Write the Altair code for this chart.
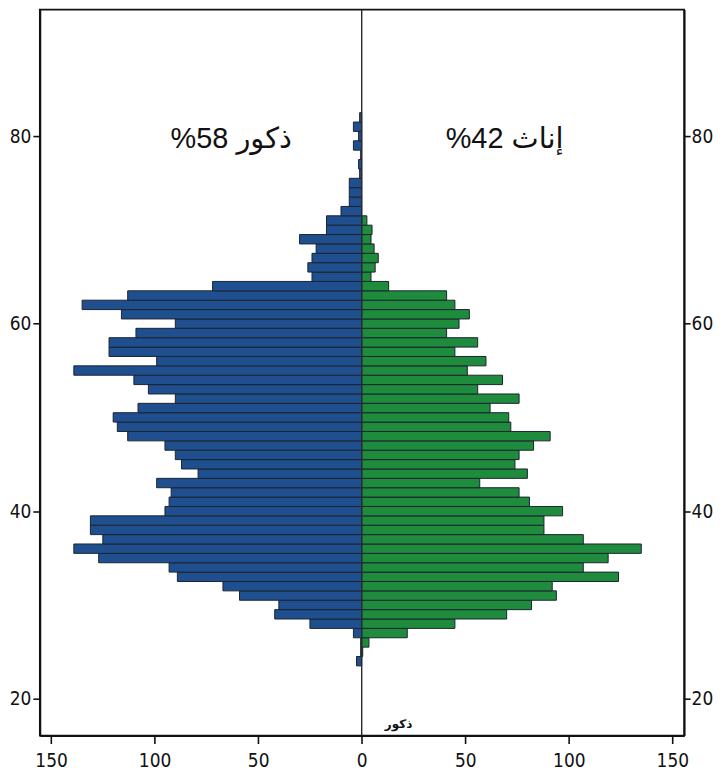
import altair as alt
import pandas as pd

# ---- data ----
ages = list(range(24, 83))
male = [2.5, 0.5, 0.5, 4, 25, 42, 40, 59, 67, 89,
        93, 127, 139, 125, 131, 131, 95, 93, 92, 99,
        79, 87, 90, 95, 113, 118, 120, 108, 90, 103,
        110, 139, 99, 122, 122, 109, 90, 116, 135, 113,
        72, 24, 26, 24, 22, 30, 17, 17, 10, 6,
        6, 6, 1, 1.5, 0.5, 4, 1.5, 4, 1]
female = [0, 0.5, 3.5, 22, 45, 70, 82, 94, 92, 124,
          107, 119, 135, 107, 88, 88, 97, 81, 76, 57,
          80, 74, 76, 83, 91, 72, 71, 62, 76, 56,
          68, 51, 60, 45, 56, 41, 47, 52, 45, 41,
          13, 4.5, 6.5, 8, 6, 4.5, 5, 2.5, 0, 0,
          0, 0, 0, 0, 0, 0, 0, 0, 0]
x_ticks = [-150, -100, -50, 0, 50, 100, 150]
y_ticks = [20, 40, 60, 80]
male_label = "%58 ذكور"
female_label = "%42 إناث"
bottom_label = "ذكور"

BLUE = "#1f4f8f"
GREEN = "#1e8b3d"
EDGE = "#1b2430"
FONT = "Liberation Sans Narrow, DejaVu Sans Condensed, Arial Narrow, sans-serif"

rows = []
for a, m, f in zip(ages, male, female):
    if m > 0:
        rows.append(dict(age=a, sex="M", x0=-m, x1=0, ylo=a - 0.5, yhi=a + 0.5))
    if f > 0:
        rows.append(dict(age=a, sex="F", x0=0, x1=f, ylo=a - 0.5, yhi=a + 0.5))
df = pd.DataFrame(rows)

X_DOM = [-155.4, 155.7]
Y_DOM = [16.07, 93.49]
xscale = alt.Scale(domain=X_DOM, nice=False, zero=False)
yscale = alt.Scale(domain=Y_DOM, nice=False, zero=False)

bars = alt.Chart(df).mark_rect(stroke=EDGE, strokeWidth=1).encode(
    x=alt.X("x0:Q", scale=xscale,
            axis=alt.Axis(values=x_ticks, labelExpr="abs(datum.value)", title=None,
                          tickSize=8, labelPadding=8, labelFlush=False)),
    x2="x1:Q",
    y=alt.Y("ylo:Q", scale=yscale,
            axis=alt.Axis(values=y_ticks, orient="left", title=None,
                          tickSize=7, labelPadding=2, labelFlush=False)),
    y2="yhi:Q",
    color=alt.Color("sex:N", scale=alt.Scale(domain=["M", "F"], range=[BLUE, GREEN]),
                    legend=None),
)

right_axis = alt.Chart(pd.DataFrame({"v": y_ticks})).mark_point(opacity=0).encode(
    y=alt.Y("v:Q", scale=yscale,
            axis=alt.Axis(values=y_ticks, orient="right", title=None,
                          tickSize=6, labelPadding=1, labelFlush=False)),
)

center = alt.Chart(pd.DataFrame({"c": [0]})).mark_rule(color="#2a2a2a", strokeWidth=1.4).encode(
    x=alt.X("c:Q", scale=xscale),
)


def label(txt, xv, yv, size, font, weight="normal"):
    return alt.Chart(pd.DataFrame({"t": [txt]})).mark_text(
        fontSize=size, font=font, fontWeight=weight, color="#111111",
        align="center", baseline="middle"
    ).encode(
        x=alt.XDatum(xv),
        y=alt.YDatum(yv, scale=yscale, axis=None),
        text="t:N",
    )


t_male = label(male_label, -63, 79.7, 29, "Liberation Sans, DejaVu Sans, sans-serif")
t_female = label(female_label, 69, 79.7, 29, "Liberation Sans, DejaVu Sans, sans-serif")
t_bottom = label(bottom_label, 17.8, 17.3, 12, "DejaVu Sans, sans-serif", "bold")

chart = alt.layer(bars, right_axis, center, t_male, t_female, t_bottom).resolve_scale(
    y="independent"
).properties(
    width=647, height=729,
    autosize=alt.AutoSizeParams(type="none"),
    padding={"left": 32, "top": 0, "right": 36, "bottom": 40},
    background="white",
).configure_view(
    stroke="#111111", strokeWidth=1.8
).configure_axis(
    grid=False, domainColor="#111111", domainWidth=1.8, tickColor="#111111", tickWidth=1.6,
    labelFont=FONT, labelFontSize=19, labelColor="#111111"
)

chart.save("out.html", embed_options={"renderer": "svg", "actions": False})
